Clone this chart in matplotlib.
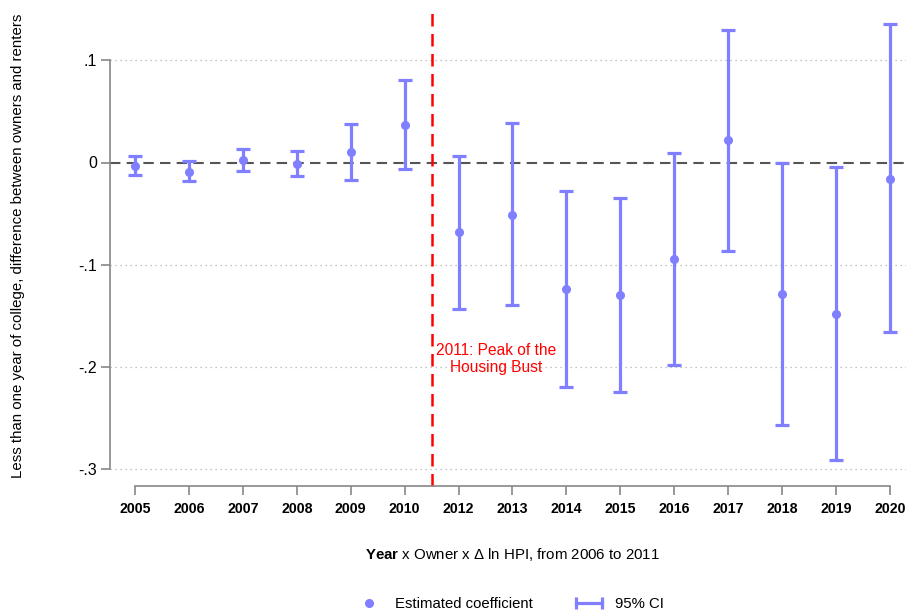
import numpy as np
import matplotlib
matplotlib.use("Agg")
import matplotlib.pyplot as plt
from matplotlib.lines import Line2D
from matplotlib.legend_handler import HandlerLine2D

plt.rcParams['font.family'] = 'Liberation Sans'
plt.rcParams['mathtext.fontset'] = 'custom'
plt.rcParams['mathtext.rm'] = 'Liberation Sans'
plt.rcParams['mathtext.bf'] = 'Liberation Sans:bold'

# Event-study estimates (2011 omitted as reference year)
years = ['2005', '2006', '2007', '2008', '2009', '2010', '2012', '2013',
         '2014', '2015', '2016', '2017', '2018', '2019', '2020']
coef = [-0.003, -0.009, 0.002, -0.001, 0.010, 0.037, -0.068, -0.051,
        -0.124, -0.130, -0.094, 0.022, -0.129, -0.148, -0.016]
ci_low = [-0.012, -0.018, -0.008, -0.013, -0.017, -0.006, -0.143, -0.139,
          -0.220, -0.224, -0.198, -0.087, -0.257, -0.291, -0.166]
ci_high = [0.006, 0.001, 0.013, 0.011, 0.038, 0.081, 0.006, 0.039,
           -0.028, -0.035, 0.009, 0.130, 0.000, -0.004, 0.135]
yticks = [0.1, 0.0, -0.1, -0.2, -0.3]
ytick_labels = ['.1', '0', '-.1', '-.2', '-.3']

blue = '#7f7fff'
W, H = 908, 616

fig = plt.figure(figsize=(W / 100, H / 100), dpi=100)
ax = fig.add_axes([110 / W, 1 - 476 / H, (906 - 110) / W, (476 - 8) / H])

# axis styling first: moving a spine resets the tick objects
for s in ['top', 'right']:
    ax.spines[s].set_visible(False)
ax.spines['bottom'].set_position(('outward', 7.2))
for s in ['left', 'bottom']:
    ax.spines[s].set_color('#888888')
    ax.spines[s].set_linewidth(1.2)
ax.tick_params(axis='both', color='#888888', length=6.5, width=1.2)
ax.tick_params(axis='y', pad=3)
ax.tick_params(axis='x', pad=5)

x = np.arange(len(years))
coef = np.array(coef)
lo = coef - np.array(ci_low)
hi = np.array(ci_high) - coef

# gridlines and zero line
for yv in yticks:
    if yv != 0:
        ax.axhline(yv, color='#b0b0b0', lw=0.9, ls=(0, (1, 3)), zorder=0)
ax.axhline(0, color='#555555', lw=1.5, ls=(0, (5, 3)), zorder=1)

ax.errorbar(x, coef, yerr=[lo, hi], fmt='none', ecolor=blue, elinewidth=2.3,
            capsize=5, capthick=2.3, zorder=3)
ax.plot(x, coef, 'o', color=blue, ms=5.5, zorder=4)

# peak of the housing bust marker (between 2010 and 2012)
ax.axvline(5.5, ymin=-10 / 468, ymax=1, color='red', lw=1.8,
           ls=(0, (5, 3)), clip_on=False, zorder=2)
ax.text(6.69, -0.192, '2011: Peak of the\nHousing Bust', color='red',
        ha='center', va='center', fontsize=11.2, linespacing=1.15)

ax.set_xlim(-25 / 53.93, 14 + 16 / 53.93)
ax.set_ylim(-(476 - 162.5) / 1022.5, (162.5 - 8) / 1022.5)
ax.spines['left'].set_bounds(-0.3, 0.1)
ax.spines['bottom'].set_bounds(0, 14)

ax.set_xticks(x)
ax.set_xticklabels(years, fontweight='bold', fontsize=10.2)
ax.set_yticks(yticks)
ax.set_yticklabels(ytick_labels, fontsize=11.5)

ax.set_ylabel('Less than one year of college, difference between owners and renters',
              fontsize=10.8)
ax.yaxis.set_label_coords(-(110 - 25) / (906 - 110), (476 - 246) / 468)
ax.set_xlabel(r'$\bf{Year}$ x Owner x Δ ln HPI, from 2006 to 2011', fontsize=10.8)
ax.xaxis.set_label_coords((512 - 110) / (906 - 110), -(546 - 476) / 468)

h_pt = Line2D([0], [0], marker='o', color=blue, ls='none', ms=5.5)
h_ci = Line2D([0], [0], color=blue, lw=2.3, marker='|', ms=8, mew=2.3)
fig.legend([h_pt, h_ci], ['Estimated coefficient', '95% CI'], ncol=2,
           loc='center', bbox_to_anchor=(508 / W, 1 - 604 / H), frameon=False,
           fontsize=10.7, columnspacing=2.6, handlelength=2.3, handletextpad=0.6,
           handler_map={h_ci: HandlerLine2D(numpoints=2)})

fig.savefig('out.png', dpi=100)
